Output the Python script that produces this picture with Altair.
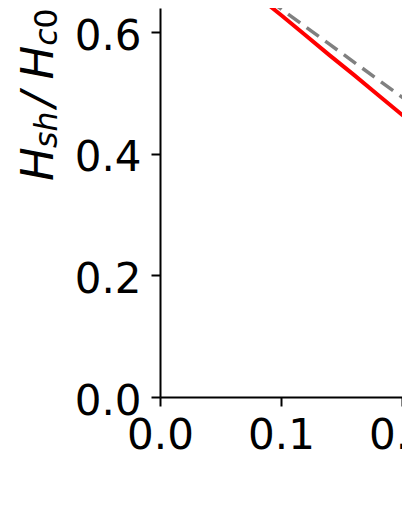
import altair as alt
import pandas as pd

# ---- data ----
x_vals = [0.06, 0.08, 0.10, 0.12, 0.14, 0.16, 0.18, 0.20, 0.22]
red_vals = [0.693, 0.660, 0.628, 0.595, 0.562, 0.530, 0.497, 0.464, 0.432]
gray_vals = [0.697, 0.668, 0.638, 0.609, 0.580, 0.551, 0.522, 0.493, 0.464]
x_ticks = [0.0, 0.1, 0.2]
y_ticks = [0.0, 0.2, 0.4, 0.6]
y_label_parts = ["H", "sh", "/", "H", "c", "0"]

df = pd.DataFrame({"x": x_vals, "red": red_vals, "gray": gray_vals})

FONT = "DejaVu Sans"
xscale = alt.Scale(domain=[0.0, 0.2], nice=False, zero=False)
yscale = alt.Scale(domain=[0.0, 0.6395], nice=False)

common_axis = dict(
    title=None, grid=False, format=".1f",
    domainColor="black", domainWidth=2,
    tickColor="black", tickWidth=2, tickSize=9,
    labelFont=FONT, labelFontSize=42, labelColor="black",
    labelFlush=False, labelOverlap=False,
)
xaxis = alt.Axis(values=x_ticks, labelPadding=9, labelBaseline="top", **common_axis)
yaxis = alt.Axis(values=y_ticks, labelPadding=10, labelBaseline="alphabetic",
                 labelOffset=17, **common_axis)

base = alt.Chart(df)
gray = base.mark_line(color="#808080", strokeWidth=3.5, strokeDash=[15, 8], clip=True).encode(
    x=alt.X("x:Q", scale=xscale, axis=xaxis),
    y=alt.Y("gray:Q", scale=yscale, axis=yaxis),
)
red = base.mark_line(color="#ff0000", strokeWidth=4, clip=True).encode(
    x=alt.X("x:Q", scale=xscale, axis=xaxis),
    y=alt.Y("red:Q", scale=yscale, axis=yaxis),
)

# y-axis title built from pieces (math-style with subscripts)
piece_specs = [
    (0, -107, 173, 45, "italic"),
    (1, -103, 140, 31.5, "italic"),
    (2, -107, 99, 45, "italic"),
    (3, -107, 71.5, 45, "italic"),
    (4, -103, 37.7, 31.5, "italic"),
    (5, -103, 20.4, 31.5, "normal"),
]
pieces = []
for i, px, py, size, style in piece_specs:
    pieces.append(
        alt.Chart(pd.DataFrame({"t": [y_label_parts[i]]}))
        .mark_text(font=FONT, fontSize=size, fontStyle=style, angle=270,
                   align="left", baseline="alphabetic", color="black")
        .encode(text="t:N", x=alt.value(px), y=alt.value(py))
    )

chart = (
    alt.layer(gray, red, *pieces)
    .properties(
        width=242, height=389,
        padding={"left": 152, "top": 0, "right": 0, "bottom": 100},
        autosize=alt.AutoSizeParams(type="none"),
    )
    .configure(background="white")
    .configure_view(stroke=None)
)

chart.save("out.html", embed_options={"renderer": "svg", "actions": False})
